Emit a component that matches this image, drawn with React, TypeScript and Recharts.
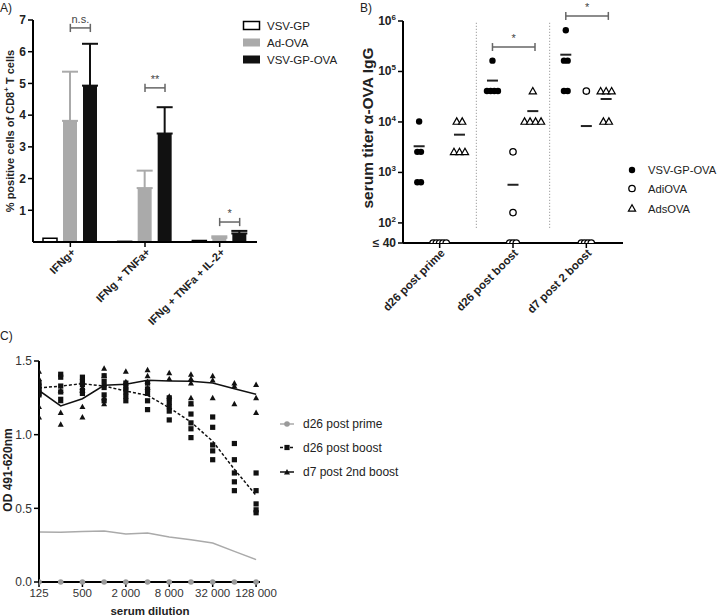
import React from 'react';
import {
  ComposedChart, Bar, XAxis, YAxis, ErrorBar, ReferenceLine,
  ScatterChart, Scatter, Line,
} from 'recharts';

const FONT = '"Liberation Sans", Arial, Helvetica, sans-serif';

// ---------------- Panel A data ----------------
const aCategories = ['IFNg+', 'IFNg + TNFa+', 'IFNg + TNFa + IL-2+'];
const aVsvGp = [0.12, 0.02, 0.05];
const aAdOva = [3.82, 1.7, 0.13];
const aAdOvaErr = [1.55, 0.55, 0.05];
const aVsvGpOva = [4.93, 3.42, 0.27];
const aVsvGpOvaErr = [1.32, 0.83, 0.08];
const aTicks = [1, 2, 3, 4, 5, 6, 7];
const aSigLabels = ['n.s.', '**', '*'];
const aSigLevels = [6.75, 4.86, 0.63];

// ---------------- Panel B data ----------------
const bCategories = ['d26 post prime', 'd26 post boost', 'd7 post 2 boost'];
const bVsvGpOva = [
  [10240, 2560, 2560, 640, 640],
  [163840, 40960, 40960, 40960, 40960],
  [655360, 163840, 163840, 40960, 40960],
];
const bAdiOva = [
  [40, 40, 40, 40, 40],
  [2560, 160, 40, 40, 40],
  [40960, 40, 40, 40, 40],
];
const bAdsOva = [
  [10240, 10240, 2560, 2560, 2560],
  [40960, 10240, 10240, 10240, 10240],
  [40960, 40960, 40960, 10240, 10240],
];
const bVsvMean = [3300, 66000, 215000];
const bAdiMean: (number | null)[] = [null, 570, 8300];
const bAdsMean = [5600, 16400, 28500];
const bTicks = [40, 100, 1000, 10000, 100000, 1000000];
const bSigGroups = [1, 2];
const bSigLevels = [305000, 1260000];

// ---------------- Panel C data ----------------
const cDilutions = [125, 250, 500, 1000, 2000, 4000, 8000, 16000, 32000, 64000, 128000];
const cTickDilutions = [125, 500, 2000, 8000, 32000, 128000];
const cPrimeCurve = [0.339, 0.337, 0.342, 0.346, 0.326, 0.333, 0.305, 0.287, 0.265, 0.208, 0.152];
const cBoostCurve = [1.317, 1.33, 1.346, 1.33, 1.296, 1.267, 1.183, 1.086, 0.955, 0.765, 0.588];
const cBoost2Curve = [1.3, 1.195, 1.244, 1.335, 1.342, 1.369, 1.364, 1.362, 1.351, 1.312, 1.274];
const cPrimePoints = [0, 0, 0, 0, 0, 0, 0, 0, 0, 0, 0];
const cBoostPoints = [
  [1.35, 1.33, 1.31, 1.29, 1.27],
  [1.41, 1.39, 1.33, 1.29, 1.24],
  [1.39, 1.36, 1.34, 1.3, 1.28],
  [1.4, 1.36, 1.32, 1.27, 1.23],
  [1.35, 1.32, 1.29, 1.26, 1.23],
  [1.35, 1.31, 1.28, 1.23, 1.17],
  [1.25, 1.22, 1.19, 1.16, 1.1],
  [1.21, 1.14, 1.08, 1.04, 0.98],
  [1.12, 1.05, 0.93, 0.89, 0.83],
  [0.94, 0.83, 0.74, 0.68, 0.62],
  [0.74, 0.62, 0.53, 0.49, 0.47],
];
const cBoost2Points = [
  [1.43, 1.38, 1.28, 1.19, 1.12],
  [1.3, 1.23, 1.15, 1.07],
  [1.32, 1.3, 1.19, 1.12],
  [1.45, 1.4, 1.35, 1.25, 1.21],
  [1.43, 1.36, 1.33],
  [1.44, 1.4, 1.36, 1.32],
  [1.42, 1.38, 1.26],
  [1.41, 1.38, 1.35, 1.25, 1.21],
  [1.4, 1.37, 1.25],
  [1.35, 1.33, 1.21],
  [1.34, 1.25, 1.15],
];

// ---------------- helpers ----------------
const AXIS = { stroke: '#000', strokeWidth: 2 };
const TICKLINE = { stroke: '#000', strokeWidth: 1.5 };

function spreadPoints(groups: number[][], offset: number, step: number) {
  const pts: { x: number; y: number }[] = [];
  groups.forEach((vals, g) => {
    const counts = new Map<number, number>();
    vals.forEach((v) => counts.set(v, (counts.get(v) || 0) + 1));
    counts.forEach((n, v) => {
      for (let k = 0; k < n; k++) pts.push({ x: g + offset + (k - (n - 1) / 2) * step, y: v });
    });
  });
  return pts;
}

const RotTick = (props: any) => {
  const { x, y, payload, labels, fontSize } = props;
  const text = labels ? labels[payload.value] : payload.value;
  return (
    <g transform={`translate(${x + 3},${y + 1})`}>
      <text x={0} y={0} dy={4} textAnchor="end" transform="rotate(-45)" fontSize={fontSize} fontWeight="bold" fill="#222" fontFamily={FONT}>
        {text}
      </text>
    </g>
  );
};

const PowTick = (props: any) => {
  const { x, y, payload } = props;
  const v = payload.value;
  if (v === 40) {
    return (
      <text x={x} y={y} dy={4} textAnchor="end" fontSize={12} fontWeight="bold" fill="#222" fontFamily={FONT}>≤ 40</text>
    );
  }
  const e = Math.round(Math.log10(v));
  return (
    <text x={x} y={y} dy={4} textAnchor="end" fontSize={12} fontWeight="bold" fill="#222" fontFamily={FONT}>
      <tspan>10</tspan>
      <tspan dy={-5} fontSize={8}>{e}</tspan>
    </text>
  );
};

const SigLabel = (props: any) => {
  const { viewBox, text, offset } = props;
  if (!viewBox) return null;
  return (
    <text x={viewBox.x + viewBox.width / 2} y={viewBox.y - offset} textAnchor="middle" fontSize={11} fill="#444" fontFamily={FONT}>
      {text}
    </text>
  );
};

const dotShape = (p: any) => <circle cx={p.cx} cy={p.cy} r={3.2} fill="#000" />;
const ringShape = (p: any) => <circle cx={p.cx} cy={p.cy} r={3.2} fill="#fff" stroke="#000" strokeWidth={1.3} />;
const triShape = (p: any) => (
  <polygon points={`${p.cx},${p.cy - 3.6} ${p.cx - 3.6},${p.cy + 2.8} ${p.cx + 3.6},${p.cy + 2.8}`} fill="#fff" stroke="#000" strokeWidth={1.2} />
);
const meanShape = (p: any) => <line x1={p.cx - 5.5} x2={p.cx + 5.5} y1={p.cy} y2={p.cy} stroke="#222" strokeWidth={2} />;
const sqShape = (p: any) => <rect x={p.cx - 2.6} y={p.cy - 2.6} width={5.2} height={5.2} fill="#111" />;
const solidTriShape = (p: any) => (
  <polygon points={`${p.cx},${p.cy - 3} ${p.cx - 3},${p.cy + 2.4} ${p.cx + 3},${p.cy + 2.4}`} fill="#111" />
);
const grayDotShape = (p: any) => <circle cx={p.cx} cy={p.cy} r={2.8} fill="#9a9a9a" />;

// ---------------- Panel A ----------------
function PanelA() {
  const data = aCategories.map((name, i) => ({
    name,
    idx: i,
    vsvgp: aVsvGp[i],
    adova: aAdOva[i],
    adovaErr: [0, aAdOvaErr[i]],
    vsvova: aVsvGpOva[i],
    vsvovaErr: [0, aVsvGpOvaErr[i]],
  }));
  const off = 0.268;
  const h = 0.13;
  const sigOffsets = [11, 3, 3];
  return (
    <ComposedChart width={360} height={340} data={data} margin={{ top: 20, right: 103, left: 0, bottom: 0 }} barSize={14} barGap={6}>
      <XAxis dataKey="name" type="category" height={98} axisLine={AXIS} tickLine={TICKLINE} tickSize={5} interval={0}
        tick={<RotTick fontSize={11} />} />
      <XAxis xAxisId="n" dataKey="idx" type="number" domain={[-0.5, 2.5]} allowDataOverflow hide />
      <YAxis width={33} domain={[0, 7]} ticks={aTicks} interval={0} axisLine={AXIS} tickLine={TICKLINE} tickSize={5}
        tick={{ fontSize: 12, fontWeight: 'bold', fill: '#222', fontFamily: FONT }} />
      <Bar dataKey="vsvgp" fill="#fff" stroke="#000" strokeWidth={1.5} isAnimationActive={false} />
      <Bar dataKey="adova" fill="#aaaaaa" isAnimationActive={false}>
        <ErrorBar dataKey="adovaErr" width={8} stroke="#aaaaaa" strokeWidth={2} direction="y" />
      </Bar>
      <Bar dataKey="vsvova" fill="#111" isAnimationActive={false}>
        <ErrorBar dataKey="vsvovaErr" width={8} stroke="#111" strokeWidth={2} direction="y" />
      </Bar>
      {aSigLevels.map((lvl, i) => (
        <ReferenceLine key={`a-h${i}`} xAxisId="n" ifOverflow="visible" stroke="#666" strokeWidth={1.5}
          segment={[{ x: i, y: lvl }, { x: i + off, y: lvl }]}
          label={<SigLabel text={aSigLabels[i]} offset={sigOffsets[i]} />} />
      ))}
      {aSigLevels.map((lvl, i) => (
        <ReferenceLine key={`a-l${i}`} xAxisId="n" ifOverflow="visible" stroke="#666" strokeWidth={1.5}
          segment={[{ x: i, y: lvl - h }, { x: i, y: lvl + h }]} />
      ))}
      {aSigLevels.map((lvl, i) => (
        <ReferenceLine key={`a-r${i}`} xAxisId="n" ifOverflow="visible" stroke="#666" strokeWidth={1.5}
          segment={[{ x: i + off, y: lvl - h }, { x: i + off, y: lvl + h }]} />
      ))}
    </ComposedChart>
  );
}

// ---------------- Panel B ----------------
function PanelB() {
  const vsvPts = spreadPoints(bVsvGpOva, -0.28, 0.05);
  const adiPts = spreadPoints(bAdiOva, 0, 0.045);
  const adsPts = spreadPoints(bAdsOva, 0.27, 0.075);
  const meanPts = [
    ...bVsvMean.map((m, g) => ({ x: g - 0.28, y: m })),
    ...bAdiMean.map((m, g) => (m == null ? null : { x: g, y: m })).filter(Boolean),
    ...bAdsMean.map((m, g) => ({ x: g + 0.27, y: m })),
  ] as { x: number; y: number }[];
  const f = 1.2;
  return (
    <ScatterChart width={360} height={330} margin={{ top: 21, right: 97, left: 0, bottom: 0 }}>
      <XAxis dataKey="x" type="number" domain={[-0.5, 2.5]} ticks={[0, 1, 2]} allowDataOverflow height={87}
        axisLine={AXIS} tickLine={TICKLINE} tickSize={5} interval={0}
        tick={<RotTick fontSize={11.5} labels={bCategories} />} />
      <YAxis dataKey="y" type="number" scale="log" domain={[40, 1000000]} ticks={bTicks} interval={0} allowDataOverflow width={43}
        axisLine={AXIS} tickLine={TICKLINE} tickSize={5} tick={<PowTick />} />
      <ReferenceLine segment={[{ x: 0.5, y: 80 }, { x: 0.5, y: 1000000 }]} stroke="#888" strokeDasharray="1 2" strokeWidth={1} />
      <ReferenceLine segment={[{ x: 1.5, y: 80 }, { x: 1.5, y: 1000000 }]} stroke="#888" strokeDasharray="1 2" strokeWidth={1} />
      <Scatter data={adiPts} shape={ringShape} isAnimationActive={false} />
      <Scatter data={adsPts} shape={triShape} isAnimationActive={false} />
      <Scatter data={vsvPts} shape={dotShape} isAnimationActive={false} />
      <Scatter data={meanPts} shape={meanShape} isAnimationActive={false} />
      {bSigGroups.map((g, i) => (
        <ReferenceLine key={`b-h${i}`} ifOverflow="visible" stroke="#666" strokeWidth={1.5}
          segment={[{ x: g - 0.28, y: bSigLevels[i] }, { x: g + 0.3, y: bSigLevels[i] }]}
          label={<SigLabel text="*" offset={1} />} />
      ))}
      {bSigGroups.map((g, i) => (
        <ReferenceLine key={`b-l${i}`} ifOverflow="visible" stroke="#666" strokeWidth={1.5}
          segment={[{ x: g - 0.28, y: bSigLevels[i] / f }, { x: g - 0.28, y: bSigLevels[i] * f }]} />
      ))}
      {bSigGroups.map((g, i) => (
        <ReferenceLine key={`b-r${i}`} ifOverflow="visible" stroke="#666" strokeWidth={1.5}
          segment={[{ x: g + 0.3, y: bSigLevels[i] / f }, { x: g + 0.3, y: bSigLevels[i] * f }]} />
      ))}
    </ScatterChart>
  );
}

// ---------------- Panel C ----------------
const fmtDil = (n: number) => (n >= 1000 ? `${Math.floor(n / 1000)} 000` : `${n}`);

function PanelC() {
  const data = cDilutions.map((d, i) => ({ dil: d, prime: cPrimeCurve[i], boost: cBoostCurve[i], boost2: cBoost2Curve[i] }));
  const primePts = cPrimePoints.map((v, i) => ({ dil: cDilutions[i], y: v }));
  const boostPts = cBoostPoints.flatMap((vals, i) => vals.map((v) => ({ dil: cDilutions[i], y: v })));
  const boost2Pts = cBoost2Points.flatMap((vals, i) => vals.map((v) => ({ dil: cDilutions[i], y: v })));
  return (
    <ComposedChart width={360} height={296} data={data} margin={{ top: 41, right: 100, left: 0, bottom: 0 }}>
      <XAxis dataKey="dil" type="number" scale="log" domain={[125, 145000]} allowDataOverflow ticks={cTickDilutions}
        tickFormatter={fmtDil} height={34} axisLine={AXIS} tickLine={TICKLINE} tickSize={5} interval={0}
        tick={{ fontSize: 11.5, fill: '#333', fontFamily: FONT }} />
      <YAxis type="number" domain={[0, 1.5]} ticks={[0, 0.5, 1, 1.5]} interval={0} tickFormatter={(v: number) => v.toFixed(1)} width={39}
        axisLine={AXIS} tickLine={TICKLINE} tickSize={5} tick={{ fontSize: 12, fill: '#333', fontFamily: FONT }} />
      <Scatter data={boostPts} dataKey="y" shape={sqShape} isAnimationActive={false} />
      <Scatter data={boost2Pts} dataKey="y" shape={solidTriShape} isAnimationActive={false} />
      <Scatter data={primePts} dataKey="y" shape={grayDotShape} isAnimationActive={false} />
      <Line dataKey="prime" stroke="#aaaaaa" strokeWidth={1.5} dot={false} isAnimationActive={false} />
      <Line dataKey="boost" stroke="#111" strokeWidth={1.5} strokeDasharray="3 2" dot={false} isAnimationActive={false} />
      <Line dataKey="boost2" stroke="#111" strokeWidth={1.5} dot={false} isAnimationActive={false} />
    </ComposedChart>
  );
}

// ---------------- Overlay (titles, legends, panel letters) ----------------
function Overlay() {
  const t = { fontFamily: FONT, fill: '#222' } as const;
  return (
    <svg width={720} height={616} style={{ position: 'absolute', left: 0, top: 0, pointerEvents: 'none' }}>
      <text x={0} y={12} fontSize={12} {...t}>A)</text>
      <text x={360} y={12} fontSize={12} {...t}>B)</text>
      <text x={0} y={340} fontSize={12} {...t}>C)</text>

      {/* Axis titles */}
      <text transform="translate(10,131) rotate(-90)" textAnchor="middle" dominantBaseline="central" fontSize={11} fontWeight="bold" {...t}>
        % positive cells of CD8<tspan dy={-4} fontSize={8}>+</tspan><tspan dy={4}> T cells</tspan>
      </text>
      <text transform="translate(367,128) rotate(-90)" textAnchor="middle" dominantBaseline="central" fontSize={15.5} fontWeight="bold" {...t}>
        serum titer α-OVA IgG
      </text>
      <text transform="translate(8,470) rotate(-90)" textAnchor="middle" dominantBaseline="central" fontSize={12} fontWeight="bold" {...t}>
        OD 491-620nm
      </text>
      <text x={150} y={611} textAnchor="middle" dominantBaseline="central" fontSize={11.5} fontWeight="bold" {...t}>serum dilution</text>

      {/* Legend A */}
      <rect x={243.5} y={21.5} width={16} height={8} fill="#fff" stroke="#000" strokeWidth={1.5} />
      <rect x={243} y={38.5} width={17} height={8} fill="#aaaaaa" />
      <rect x={243} y={55.5} width={17} height={8} fill="#111" />
      <text x={267} y={25.5} dominantBaseline="central" fontSize={11.5} {...t}>VSV-GP</text>
      <text x={267} y={42.5} dominantBaseline="central" fontSize={11.5} {...t}>Ad-OVA</text>
      <text x={267} y={59.5} dominantBaseline="central" fontSize={11.5} {...t}>VSV-GP-OVA</text>

      {/* Legend B */}
      <circle cx={632} cy={170} r={3.2} fill="#000" />
      <circle cx={632} cy={188.5} r={3.2} fill="#fff" stroke="#000" strokeWidth={1.3} />
      <polygon points="632,204.7 628.4,211.1 635.6,211.1" fill="#fff" stroke="#000" strokeWidth={1.2} />
      <text x={648} y={170} dominantBaseline="central" fontSize={11.2} {...t}>VSV-GP-OVA</text>
      <text x={648} y={188.5} dominantBaseline="central" fontSize={11.2} {...t}>AdiOVA</text>
      <text x={648} y={208.5} dominantBaseline="central" fontSize={11.2} {...t}>AdsOVA</text>

      {/* Legend C */}
      <line x1={280} x2={294} y1={424} y2={424} stroke="#aaaaaa" strokeWidth={1.5} />
      <circle cx={287} cy={424} r={2.8} fill="#9a9a9a" />
      <line x1={280} x2={294} y1={447.5} y2={447.5} stroke="#111" strokeWidth={1.5} strokeDasharray="3 2" />
      <rect x={284.4} y={444.9} width={5.2} height={5.2} fill="#111" />
      <line x1={280} x2={294} y1={472} y2={472} stroke="#111" strokeWidth={1.5} />
      <polygon points="287,469 284,474.4 290,474.4" fill="#111" />
      <text x={303} y={424} dominantBaseline="central" fontSize={12} {...t}>d26 post prime</text>
      <text x={303} y={447.5} dominantBaseline="central" fontSize={12} {...t}>d26 post boost</text>
      <text x={303} y={472} dominantBaseline="central" fontSize={12} {...t}>d7 post 2nd boost</text>
    </svg>
  );
}

export default function App() {
  return (
    <div style={{ position: 'absolute', left: 0, top: 0, width: 720, height: 616, background: '#fff', fontFamily: FONT }}>
      <div style={{ position: 'absolute', left: 0, top: 0 }}><PanelA /></div>
      <div style={{ position: 'absolute', left: 360, top: 0 }}><PanelB /></div>
      <div style={{ position: 'absolute', left: 0, top: 320 }}><PanelC /></div>
      <Overlay />
    </div>
  );
}
